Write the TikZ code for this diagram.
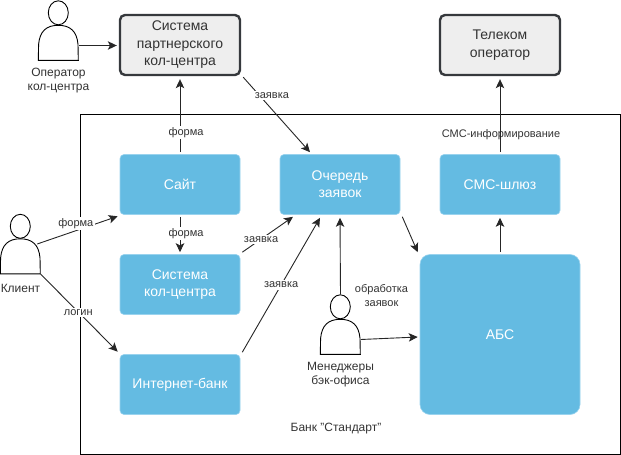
\documentclass[tikz,border=0pt]{standalone}
\usepackage{fontspec}
\setmainfont{Liberation Sans}
\usetikzlibrary{arrows.meta}
\definecolor{bluebox}{HTML}{64BBE2}
\definecolor{blueedge}{HTML}{9AD3EE}
\definecolor{greybox}{HTML}{EEEEEE}
\definecolor{greyedge}{HTML}{36393D}
\definecolor{txt}{HTML}{333333}
\tikzset{
  x=1pt,y=-1pt,
  bluenode/.style={rectangle,rounded corners=4pt,fill=bluebox,draw=blueedge,line width=0.6pt,
    minimum width=120pt,minimum height=60pt,inner sep=0pt,text=white,align=center,
    font=\fontsize{14}{17}\selectfont},
  greynode/.style={rectangle,rounded corners=5pt,fill=greybox,draw=greyedge,line width=2.4pt,
    minimum width=120pt,minimum height=60pt,inner sep=0pt,text=txt,align=center,
    font=\fontsize{14}{17.5}\selectfont},
  personbox/.style={rectangle,minimum width=40pt,minimum height=60pt,inner sep=0pt,draw=none},
  capt/.style={text=txt,align=center,inner sep=0pt,font=\fontsize{12}{14}\selectfont},
  elabel/.style={fill=white,inner sep=1.5pt,text=txt,font=\fontsize{11}{13}\selectfont},
  plain/.style={inner sep=0pt,text=txt,align=center,font=\fontsize{11}{14}\selectfont},
  bankfont/.style={font=\fontsize{12}{14}\selectfont},
  conn/.style={draw=black!85,line width=0.9pt,-{Stealth[length=9pt,width=8.5pt,inset=2.2pt]}},
  figure/.style={draw=black,line width=0.9pt,fill=white},
}
\newcommand{\personfig}[1]{%
  \begin{scope}[shift={(#1.north west)}]
    \draw[figure] (0,60) -- (0.3,44) .. controls (1.5,31) and (8,25) .. (20,25)
      .. controls (32,25) and (38.5,31) .. (39.7,44) -- (40,60) -- cycle;
    \draw[figure] (20,12.5) ellipse [x radius=10,y radius=12];
  \end{scope}}
\begin{document}
\begin{tikzpicture}
\useasboundingbox (0,0) rectangle (621,455);
\node[rectangle,draw=black,line width=0.9pt,minimum width=540pt,minimum height=340pt,inner sep=0pt] (bank) at (350,284) {};

\node[plain] (smsinfo) at (501,135) {СМС-информирование};

\node[greynode] (partner) at (180,45) {Система\\партнерского\\кол-центра};
\node[greynode] (telecom) at (500,45) {Телеком\\оператор};
\node[bluenode] (site) at (180,184.5) {Сайт};
\node[bluenode] (queue) at (340,184.5) {Очередь\\заявок};
\node[bluenode] (gateway) at (500,184.5) {СМС-шлюз};
\node[bluenode] (callsys) at (180,284.5) {Система\\кол-центра};
\node[bluenode] (inet) at (180,384.5) {Интернет-банк};
\node[bluenode,rounded corners=10pt,minimum width=160pt,minimum height=160pt] (abs) at (500,334.5) {АБС};

\node[personbox] (operator) at (58.5,30.5) {};
\node[personbox] (client) at (20.5,244) {};
\node[personbox] (manager) at (340.5,324.5) {};
\personfig{operator}
\personfig{client}
\personfig{manager}

\node[capt] (opcapt) at (58.5,80.5) {Оператор\\кол-центра};
\node[capt] (clcapt) at (20.5,288) {Клиент};
\node[capt] (mgcapt) at (340.5,374.5) {Менеджеры\\бэк-офиса};
\node[plain,bankfont] (bankcapt) at (336,428.5) {Банк "Стандарт"};
\node[plain] (proc) at (381.5,295.5) {обработка\\заявок};

\draw[conn] ([yshift=-15]operator.east) -- ([xshift=-2,yshift=-0.5]partner.west);
\draw[conn] ([yshift=2]site.north) -- node[elabel,pos=0.27,xshift=6] {форма} ([yshift=-3]partner.south);
\draw[conn] ([xshift=2,yshift=-1]partner.south east) -- node[elabel,pos=0.25,xshift=12] {заявка} ([xshift=-30,yshift=2]queue.north);
\draw[conn] ([yshift=2]gateway.north) -- ([yshift=-3]telecom.south);
\draw[conn] ([yshift=-2]site.south) -- node[elabel,pos=0.47,xshift=6] {форма} ([yshift=2]callsys.north);
\draw[conn] ([xshift=2,yshift=2]callsys.north east) -- node[elabel,pos=0.37] {заявка} ([xshift=-47,yshift=-2]queue.south);
\draw[conn] ([xshift=2,yshift=2]inet.north east) -- node[elabel,pos=0.5] {заявка} ([xshift=-20,yshift=-3]queue.south);
\draw[conn] ([xshift=2,yshift=-2]queue.south east) -- ([xshift=-2,yshift=2]abs.north west);
\draw[conn] ([yshift=2]abs.north) -- ([yshift=-3]gateway.south);
\draw[conn] (manager.north) -- ([xshift=0,yshift=-3]queue.south);
\draw[conn] ([yshift=-15]manager.east) -- ([xshift=-2,yshift=-2.5]abs.west);
\draw[conn] ([xshift=-3.5]client.east) -- node[elabel,pos=0.48,yshift=7] {форма} ([xshift=-2,yshift=-1.5]site.south west);
\draw[conn] (client.south east) -- node[elabel,pos=0.5,xshift=-1] {логин} ([xshift=-2,yshift=2.5]inet.north west);
\end{tikzpicture}
\end{document}
